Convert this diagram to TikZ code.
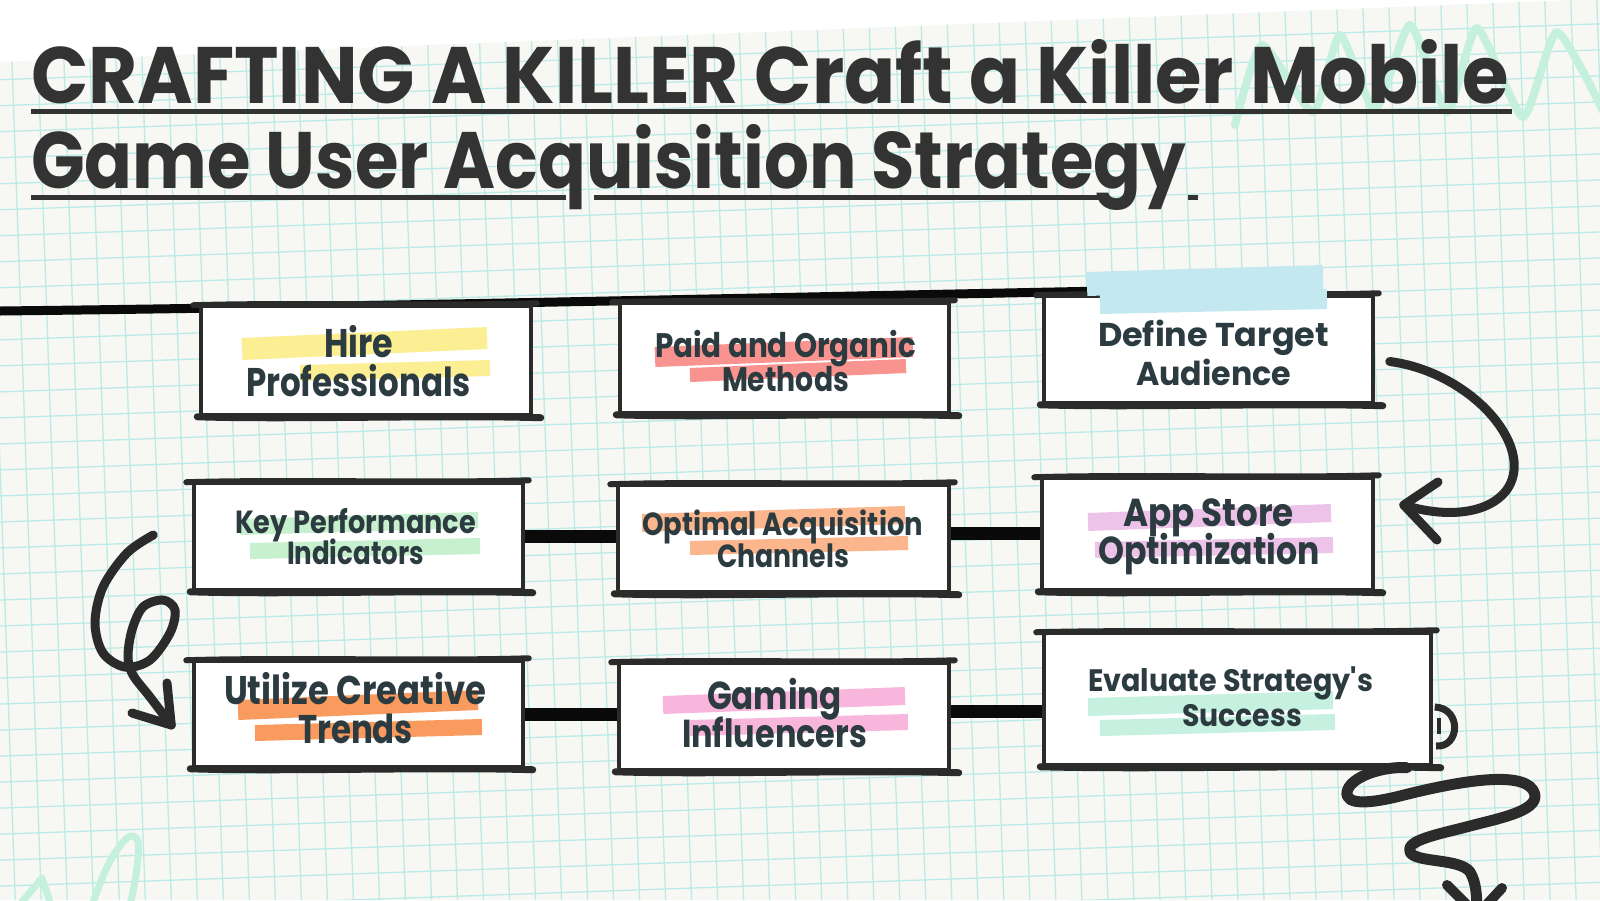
\documentclass[tikz,border=0pt]{standalone}
\usepackage{fontspec}
\newfontfamily\pop{Poppins}
\usetikzlibrary{calc}
\pgfdeclarelayer{paperL}
\pgfdeclarelayer{lineL}
\pgfsetlayers{paperL,lineL,main}
\definecolor{ink}{HTML}{2B2B2B}
\definecolor{conn}{HTML}{0A0A0A}
\definecolor{txt}{HTML}{2B3B40}
\definecolor{ttl}{HTML}{333333}
\definecolor{gridc}{HTML}{BCEAE6}
\definecolor{paper}{HTML}{F7F7F4}
\definecolor{mint}{HTML}{C5F0DE}
\definecolor{hyel}{HTML}{FCEF93}
\definecolor{hcor}{HTML}{F8938F}
\definecolor{hblu}{HTML}{C3E8F0}
\definecolor{hgrn}{HTML}{C7F1CE}
\definecolor{hpea}{HTML}{FBB68D}
\definecolor{hlil}{HTML}{EEC3EA}
\definecolor{hora}{HTML}{F99B5E}
\definecolor{hpnk}{HTML}{F8B6DD}
\definecolor{hmnt}{HTML}{C6F1E0}
\newsavebox\fitbox
\newcommand\fitline[2]{\sbox\fitbox{#2}\pgfmathsetmacro\fitsx{#1/\wd\fitbox}\scalebox{\fitsx}[1]{\usebox\fitbox}}
\tikzset{
 box/.style={draw=ink, line width=3.5pt, fill=white, inner sep=0pt, rectangle},
 edge/.style={draw=ink, line width=6pt, line cap=round},
 lbl/.style={text=txt, inner sep=0pt, anchor=base, font=\pop\bfseries\fontsize{#1}{#1}\selectfont},
 ttlline/.style={text=ttl, inner sep=0pt, anchor=base west, font=\pop\bfseries\fontsize{80}{90}\selectfont},
 uline/.style={draw=ttl, line width=5pt},
 bar/.style={draw=conn, line width=13pt},
 arr/.style={draw=ink, line width=9pt, line cap=round, line join=round},
 brush/.style={line width=#1, line cap=butt},
}
\newcommand\roughbox[1]{%
 \draw[edge] ([shift={(-6,1)}]#1.north west) .. controls ([shift={(-80,-2)}]#1.north) and ([shift={(80,2)}]#1.north) .. ([shift={(4,-1)}]#1.north east);
 \draw[edge, line width=7pt] ([shift={(-2,0)}]#1.south west) .. controls ([shift={(-80,3)}]#1.south) and ([shift={(80,-2)}]#1.south) .. ([shift={(8,1)}]#1.south east);
}
\begin{document}
\begin{tikzpicture}[x=1pt,y=-1pt]
\useasboundingbox (0,0) rectangle (1600,900);
\begin{pgfonlayer}{paperL}
\fill[white] (0,0) rectangle (1600,900);
\fill[paper] (0,62) -- (1600,-1) -- (1600,900) -- (0,900) -- cycle;
\begin{scope}
\clip (0,62) -- (1600,-1) -- (1600,900) -- (0,900) -- cycle;
\begin{scope}[rotate around={2:(800,450)}]
\draw[gridc, line width=1.3pt, xstep=26pt, ystep=26pt] (-300,1200) grid (1900,-300);
\end{scope}
\end{scope}
\draw[mint, line width=8pt, line cap=round, line join=round] plot[smooth, tension=0.35] coordinates {(1235,125) (1262,45) (1313,112) (1340,35) (1375,110) (1410,25) (1447,112) (1477,28) (1523,117) (1557,32) (1605,115)};
\draw[mint, line width=7pt, line cap=round] plot[smooth, tension=0.6] coordinates {(92,905) (108,865) (127,838) (138,842) (136,875) (130,905)};
\draw[mint, line width=7pt, line cap=round, line join=round] (22,902) -- (42,878) -- (50,902);
\end{pgfonlayer}

% title
\node[ttlline] (title1) at (31,103) {\fitline{1478}{CRAFTING A KILLER Craft a Killer Mobile}};
\node[ttlline] (title2) at (31,188) {\fitline{1155}{Game User Acquisition Strategy}};
\draw[uline] (31,111) -- (1512,111);
\draw[uline] (31,197) -- (566,197);
\draw[uline] (594,197) -- (1101,197);
\draw[uline] (1188,197) -- (1198,197);

% boxes
\node[box, minimum width=330pt, minimum height=109pt] (b1) at (366,360.5) {};
\node[box, minimum width=329pt, minimum height=110pt] (b2) at (784.5,358) {};
\node[box, minimum width=329pt, minimum height=107pt] (b3) at (1208.5,349.5) {};
\node[box, minimum width=329pt, minimum height=107pt] (b4) at (358.5,536.5) {};
\node[box, minimum width=331pt, minimum height=107pt] (b5) at (783.5,538.5) {};
\node[box, minimum width=331pt, minimum height=112pt] (b6) at (1207.5,534) {};
\node[box, minimum width=329pt, minimum height=106pt] (b7) at (358.5,714) {};
\node[box, minimum width=330pt, minimum height=107pt] (b8) at (784,716.5) {};
\node[box, minimum width=387pt, minimum height=132pt] (b9) at (1237.5,699) {};
\foreach \b in {b1,b2,b3,b4,b5,b6,b7,b8,b9}{\roughbox{\b}}

% connectors
\coordinate (tls) at (0,311);
\coordinate (tle) at ([shift={(50,-3)}]b3.north west);
\begin{pgfonlayer}{lineL}
\draw[draw=conn, line width=9pt] (tls) .. controls (350,307) and (750,298) .. (tle);
\draw[bar] (b4.east) -- (b4.east -| b5.west);
\draw[bar] ([shift={(0,-5)}]b5.east) -- ([shift={(0,-5)}]b5.east -| b6.west);
\draw[bar] (b7.east) -- (b7.east -| b8.west);
\draw[bar] ([shift={(0,-5)}]b8.east) -- ([shift={(0,-5)}]b8.east -| b9.west);
\end{pgfonlayer}

% highlights
\draw[hyel, brush=22pt] (242,349) -- (487,338);
\draw[hyel, brush=16pt] (300,373) -- (490,368);
\draw[hcor, brush=20pt] (655,357) -- (913,347);
\draw[hcor, brush=14pt] (690,375) -- (906,366);
\draw[hblu, brush=24pt] (1087,284) -- (1323,277);
\draw[hblu, brush=20pt] (1100,304) -- (1327,299);
\draw[hgrn, brush=16pt] (240,527) -- (478,520);
\draw[hgrn, brush=16pt] (250,551) -- (480,546);
\draw[hpea, brush=18pt] (642,523) -- (905,515);
\draw[hpea, brush=14pt] (690,548) -- (908,543);
\draw[hlil, brush=18pt] (1088,522) -- (1331,513);
\draw[hlil, brush=16pt] (1095,550) -- (1333,545);
\draw[hora, brush=20pt] (238,710) -- (478,700);
\draw[hora, brush=16pt] (255,733) -- (482,727);
\draw[hpnk, brush=18pt] (663,705) -- (905,696);
\draw[hpnk, brush=16pt] (690,728) -- (908,722);
\draw[hmnt, brush=18pt] (1088,707) -- (1333,700);
\draw[hmnt, brush=16pt] (1100,728) -- (1335,722);

% texts
\node[lbl=40] (t1a) at (358.5,357) {\fitline{69}{Hire}};
\node[lbl=40] (t1b) at (358.5,396) {\fitline{225}{Professionals}};
\node[lbl=34] (t2a) at (785.5,357) {\fitline{261}{Paid and Organic}};
\node[lbl=34] (t2b) at (785.5,391) {\fitline{127}{Methods}};
\node[lbl=33] (t3a) at (1213.5,346) {\fitline{231}{Define Target}};
\node[lbl=33] (t3b) at (1213.5,385) {\fitline{155}{Audience}};
\node[lbl=32] (t4a) at (355.5,533) {\fitline{241}{Key Performance}};
\node[lbl=32] (t4b) at (355.5,564) {\fitline{137}{Indicators}};
\node[lbl=32] (t5a) at (782.5,535) {\fitline{281}{Optimal Acquisition}};
\node[lbl=32] (t5b) at (783,567) {\fitline{132}{Channels}};
\node[lbl=39] (t6a) at (1208.5,526) {\fitline{171}{App Store}};
\node[lbl=39] (t6b) at (1209,564) {\fitline{222}{Optimization}};
\node[lbl=40] (t7a) at (355,704) {\fitline{262}{Utilize Creative}};
\node[lbl=40] (t7b) at (355.5,743) {\fitline{115}{Trends}};
\node[lbl=39] (t8a) at (774.5,709) {\fitline{135}{Gaming}};
\node[lbl=39] (t8b) at (774.5,747) {\fitline{185}{Influencers}};
\node[lbl=31] (t9a) at (1230.5,691) {\fitline{285}{Evaluate Strategy's}};
\node[lbl=31] (t9b) at (1242,726) {\fitline{120}{Success}};

% arrows
\coordinate (a36s) at ([shift={(15,12)}]b3.east);
\coordinate (a36e) at ([shift={(29,-29)}]b6.east);
\draw[arr] (a36s) .. controls (1470,372) and (1535,445) .. (1508,488) .. controls (1490,515) and (1445,518) .. (a36e);
\draw[arr] (1438,482) -- (a36e) -- (1437,540);

\coordinate (a47s) at ([shift={(-39,-1.5)}]b4.west);
\coordinate (a47e) at ([shift={(-21,11)}]b7.west);
\draw[arr] plot[smooth, tension=0.55] coordinates {(a47s) (127,553) (103,587) (95,623) (103,653) (125,667) (150,660) (170,633) (175,610) (163,600) (143,607) (132,630) (128,657) (133,675) (150,697) (a47e)};
\draw[arr] (132,713) -- (a47e) -- (167,683);

\coordinate (a9s) at ([shift={(-26,1)}]b9.south east);
\coordinate (a9e) at (1477,915);
\draw[arr, line width=11pt] (a9s) .. controls (1385,766) and (1350,776) .. (1347,792) .. controls (1345,806) and (1372,803) .. (1400,796) .. controls (1455,782) and (1520,770) .. (1533,790) .. controls (1545,810) and (1500,818) .. (1470,826) .. controls (1440,834) and (1405,840) .. (1410,852) .. controls (1415,863) and (1460,858) .. (1470,872) .. controls (1476,882) and (1477,895) .. (a9e);
\draw[arr, line width=10pt] (1447,885) -- (a9e) -- (1502,888);
\draw[draw=ink, line width=7pt] ([shift={(2,8)}]b9.east) .. controls (1462,708) and (1460,748) .. (1436,746);
\draw[draw=ink, line width=4pt] (1439,718) -- (1439,734);
\end{tikzpicture}
\end{document}
